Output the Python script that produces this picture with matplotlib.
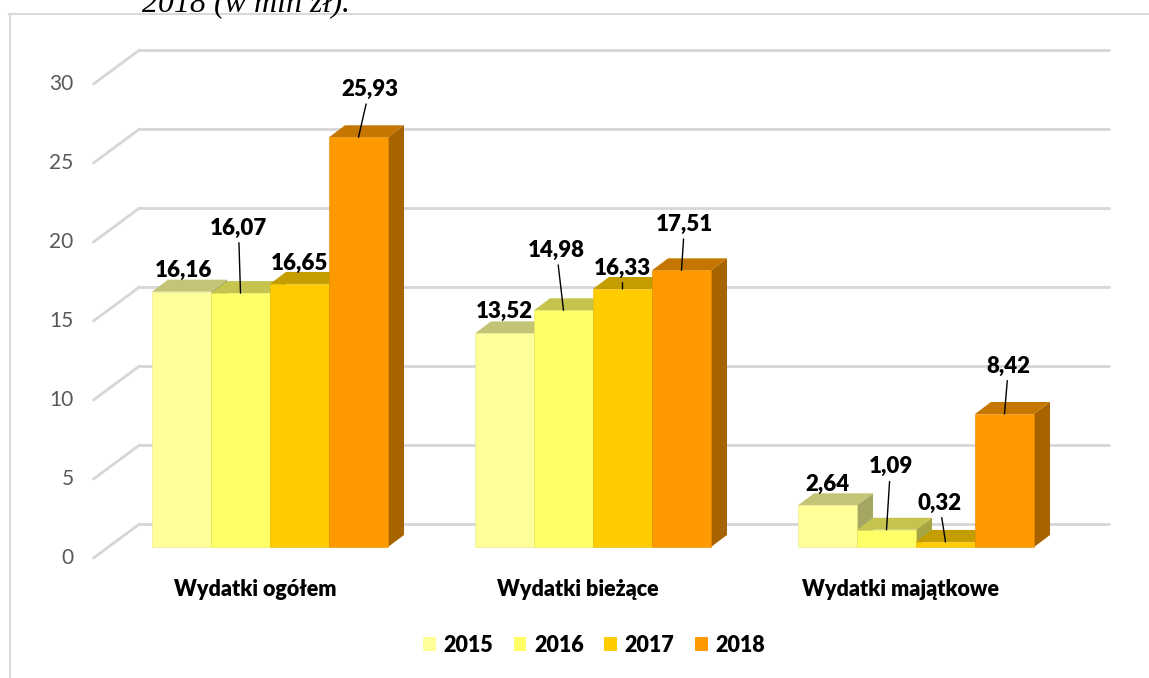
import matplotlib.pyplot as plt
from matplotlib.patches import Polygon, Patch
from matplotlib.lines import Line2D
import numpy as np

# dane
categories = ['Wydatki ogółem', 'Wydatki bieżące', 'Wydatki majątkowe']
years = ['2015', '2016', '2017', '2018']
v2015 = [16.16, 13.52, 2.64]
v2016 = [16.07, 14.98, 1.09]
v2017 = [16.65, 16.33, 0.32]
v2018 = [25.93, 17.51, 8.42]
y_ticks = [0, 5, 10, 15, 20, 25, 30]

series = [v2015, v2016, v2017, v2018]
colors = ['#FFFF99', '#FFFF66', '#FFCC00', '#FF9900']

# przesunięcia etykiet (piksele) i czy rysować linię odniesienia
label_off = [
    [(2, 21, False), (-2, 65, True), (0, 21, False), (11, 48, True)],
    [(0, 22, False), (-7, 60, True), (0, 21, True), (3, 46, True)],
    [(0, 21, False), (4, 63, True), (-6, 39, True), (4, 48, True)],
]

plt.rcParams['font.family'] = ['Lato', 'DejaVu Sans']

W, H = 1149, 678
fig = plt.figure(figsize=(W / 100, H / 100), dpi=100)
ax = fig.add_axes([0, 0, 1, 1])
ax.axis('off')

# skale: 323 px na grupę, 15.8 px na jednostkę
sx, sy = 323.0, 15.8
x0_px, y0_px = 270.0, 547.0
ax.set_xlim(-x0_px / sx, (W - x0_px) / sx)
ax.set_ylim((y0_px - H) / sy, y0_px / sy)

bw = 59 / sx                      # szerokość słupka
bd = (16 / sx, 12 / sy)           # głębokość słupka
back = (31 / sx, 23 / sy)         # tylna ściana
front = (-15 / sx, -11 / sy)      # przednia krawędź
left, right = -0.5, 2.5

# siatka w stylu 3D
grid_c = '#d6d6d6'
for t in y_ticks:
    ax.plot([left + front[0], left + back[0]], [t + front[1], t + back[1]],
            color=grid_c, lw=2.0, solid_capstyle='round', zorder=1)
    ax.plot([left + back[0], right + back[0]], [t + back[1], t + back[1]],
            color=grid_c, lw=2.0, solid_capstyle='round', zorder=1)
    ax.annotate(str(t), (left + front[0], t + front[1]), xytext=(-20, 0),
                textcoords='offset pixels', ha='right', va='center',
                fontsize=15, color='#595959')


def shade(c, k):
    r, g, b = [int(c[i:i + 2], 16) / 255 for i in (1, 3, 5)]
    return (r * k, g * k, b * k)


x = np.arange(len(categories))
z = 2
for g in range(len(categories)):
    for j, vals in enumerate(series):
        xl = x[g] + (j - 2) * bw
        xr = xl + bw
        h = vals[g]
        c = colors[j]
        side = Polygon([(xr, 0), (xr + bd[0], bd[1]), (xr + bd[0], h + bd[1]), (xr, h)],
                       closed=True, fc=shade(c, 0.65), ec='none', zorder=z)
        top = Polygon([(xl, h), (xr, h), (xr + bd[0], h + bd[1]), (xl + bd[0], h + bd[1])],
                      closed=True, fc=shade(c, 0.77), ec='none', zorder=z)
        ax.add_patch(side)
        ax.add_patch(top)
        ax.bar(xl, h, width=bw, align='edge', color=c, edgecolor=shade(c, 0.9),
               linewidth=0.4, zorder=z + 0.5)
        z += 1

# etykiety wartości
for g in range(len(categories)):
    for j, vals in enumerate(series):
        xc = x[g] + (j - 1.5) * bw
        h = vals[g]
        dx, dy, lead = label_off[g][j]
        txt = f'{h:.2f}'.replace('.', ',')
        ap = dict(arrowstyle='-', color='black', lw=1.0, shrinkA=1, shrinkB=0) if lead else None
        ax.annotate(txt, (xc, h), xytext=(dx, dy), textcoords='offset pixels',
                    ha='center', va='center', fontsize=16, fontweight='heavy',
                    color='black', arrowprops=ap, zorder=50)

# etykiety kategorii
for g, cat in enumerate(categories):
    ax.annotate(cat, (x[g] + front[0], 0), xytext=(0, -42), textcoords='offset pixels',
                ha='center', va='center', fontsize=15.5, fontweight='heavy')

# legenda
handles = [Patch(facecolor=c, edgecolor='none') for c in colors]
leg = fig.legend(handles, years, loc='center', ncol=4, frameon=False,
                 bbox_to_anchor=(594 / W, 1 - 645 / H), handlelength=0.6,
                 handleheight=0.6, handletextpad=0.35, columnspacing=0.95,
                 prop={'weight': 'heavy', 'size': 15.5})

# ramka wykresu
fig.add_artist(Line2D([9.5 / W, 9.5 / W], [0, 1 - 14 / H], color='#d9d9d9', lw=1.5))
fig.add_artist(Line2D([9 / W, 1], [1 - 14 / H, 1 - 14 / H], color='#d9d9d9', lw=1.5))

# fragment tytułu (ucięty u góry)
fig.text(142 / W, 1 - 11 / H, '2018 (w mln zł).', fontsize=23, style='italic',
         family='Liberation Serif', va='baseline', ha='left')

fig.savefig('out.png', dpi=100)
